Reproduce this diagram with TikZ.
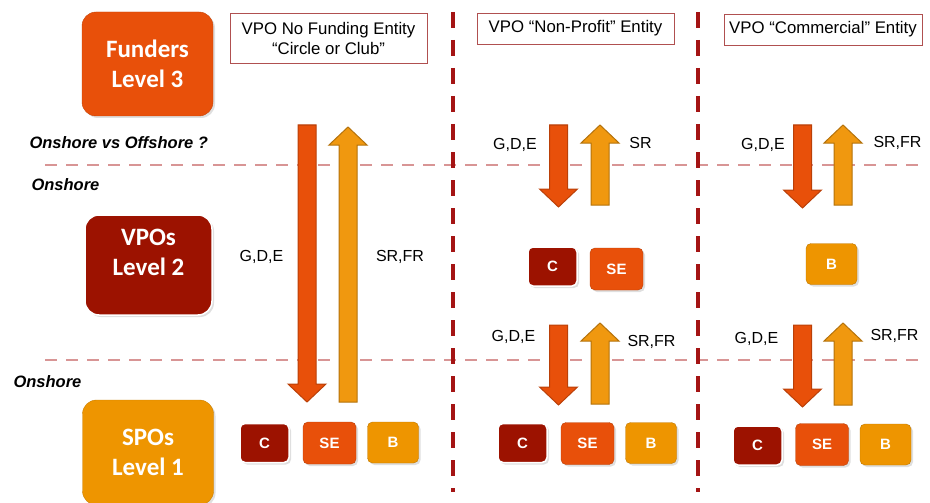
\documentclass[tikz,border=0pt]{standalone}
\usepackage{fontspec}
\setmainfont{Liberation Sans}
\newfontfamily\calibri{Carlito}
\usetikzlibrary{shadows}

\definecolor{funderred}{HTML}{E8500A}
\definecolor{vpored}{HTML}{9C1200}
\definecolor{spoorange}{HTML}{EE9500}
\definecolor{amberarr}{HTML}{F0980F}
\definecolor{linered}{HTML}{A41414}
\definecolor{shorepink}{HTML}{D89595}
\definecolor{headframe}{HTML}{B05050}

% block arrow: style, x, y of tail, y of tip
\newcommand{\bigarrow}[4]{%
  \draw[#1] ({#2-9},#3) -- ({#2+9},#3) -- ({#2+9},{#4-18*sign(#4-#3)})
    -- ({#2+19},{#4-18*sign(#4-#3)}) -- (#2,#4) -- ({#2-19},{#4-18*sign(#4-#3)})
    -- ({#2-9},{#4-18*sign(#4-#3)}) -- cycle;}

\begin{document}
\begin{tikzpicture}[
    x=1pt, y=-1pt,
    shade/.style={drop shadow={opacity=0.25,shadow xshift=2pt,shadow yshift=-2pt}},
    leveltext/.style={align=center,text=white,font=\calibri\bfseries\fontsize{25}{30}\selectfont},
    level/.style={shade,leveltext,rounded corners=14pt,minimum width=131pt,minimum height=104pt},
    entity/.style={draw=headframe,thin,align=center,minimum width=197pt,minimum height=31pt,
        inner sep=2pt,font=\fontsize{16.8}{20}\selectfont},
    unit/.style={shade,rounded corners=5pt,minimum width=51pt,minimum height=41pt,
        text=white,font=\bfseries\fontsize{15}{18}\selectfont},
    cbox/.style={unit,fill=vpored,draw=white,line width=1.5pt,minimum width=49pt,minimum height=39pt},
    sebox/.style={unit,fill=funderred,draw=funderred!80!black,minimum width=53pt,minimum height=42pt},
    bbox/.style={unit,fill=spoorange,draw=spoorange!80!black},
    shore/.style={draw=shorepink,line width=2pt,dash pattern=on 12pt off 9pt},
    split/.style={draw=linered,line width=3.5pt,dash pattern=on 16pt off 12pt},
    flowlbl/.style={font=\fontsize{16}{18}\selectfont},
    sidelbl/.style={anchor=west,font=\bfseries\itshape\fontsize{16.5}{18}\selectfont},
    downarr/.style={fill=funderred,draw=funderred!80!black,line width=1pt},
    uparr/.style={fill=amberarr,draw=amberarr!75!black,line width=1pt},
]
\useasboundingbox (0,0) rectangle (930,503);

% dividers
\draw[shore] (45,165) -- (920,165);
\draw[shore] (45,360) -- (920,360);
\draw[split] (453,12) -- (453,492);
\draw[split] (698,12) -- (698,492);

% levels
\node[level,fill=funderred,draw=funderred!85!black] (funders) at (147.5,64) {Funders\\Level 3};
\node[level,fill=vpored,draw=white,line width=1.5pt,minimum width=127pt,minimum height=100pt] (vpos) at (148.5,265) {};
\node[leveltext] (vpostext) at (148.5,252) {VPOs\\Level 2};
\node[level,fill=spoorange,draw=spoorange!85!black,minimum height=105pt] (spos) at (148,452.5) {SPOs\\Level 1};

\node[sidelbl] (offshore) at (26,143) {Onshore vs Offshore ?};
\node[sidelbl] (onshoreA) at (28,185) {Onshore};
\node[sidelbl] (onshoreB) at (10,382) {Onshore};

% entity headers
\node[entity,minimum height=50pt] (club) at (328.5,38) {VPO No Funding Entity\\“Circle or Club”};
\node[entity] (nonprofit) at (575.5,28.5) {VPO “Non-Profit” Entity};
\node[entity,minimum width=198pt] (commercial) at (823,29.5) {VPO “Commercial” Entity};

% flows
\bigarrow{downarr}{307}{125}{402}
\bigarrow{uparr}{348}{402}{127}
\node[flowlbl] (gdeA) at (261.5,257) {G,D,E};
\node[flowlbl] (srA) at (400,257) {SR,FR};

\bigarrow{downarr}{558.5}{125}{207}
\bigarrow{uparr}{600}{205}{125}
\node[flowlbl] (gdeB) at (515,145) {G,D,E};
\node[flowlbl] (srB) at (640.5,143) {SR};

\bigarrow{downarr}{802.5}{125}{208}
\bigarrow{uparr}{843}{205}{125}
\node[flowlbl] (gdeC) at (763,145) {G,D,E};
\node[flowlbl] (srC) at (897.5,143) {SR,FR};

\bigarrow{downarr}{558.5}{325}{405}
\bigarrow{uparr}{600}{404}{323}
\node[flowlbl] (gdeD) at (513.5,337) {G,D,E};
\node[flowlbl] (srD) at (651.5,342) {SR,FR};

\bigarrow{downarr}{802.5}{325}{407}
\bigarrow{uparr}{843}{405}{323}
\node[flowlbl] (gdeE) at (756.5,339) {G,D,E};
\node[flowlbl] (srE) at (894.5,336) {SR,FR};

% entity units
\node[cbox] (cMid) at (552.5,266.5) {C};
\node[sebox] (seMid) at (616.5,269) {SE};
\node[bbox] (bMid) at (831.5,264) {B};

\node[cbox] (cA) at (264.5,443) {C};
\node[sebox] (seA) at (329.5,443) {SE};
\node[bbox] (bA) at (393,442.5) {B};

\node[cbox] (cB) at (522.5,443) {C};
\node[sebox] (seB) at (587.5,443.5) {SE};
\node[bbox] (bB) at (651,443) {B};

\node[cbox] (cC) at (757.5,445.5) {C};
\node[sebox] (seC) at (822,444.5) {SE};
\node[bbox] (bC) at (885.5,444.5) {B};
\end{tikzpicture}
\end{document}
